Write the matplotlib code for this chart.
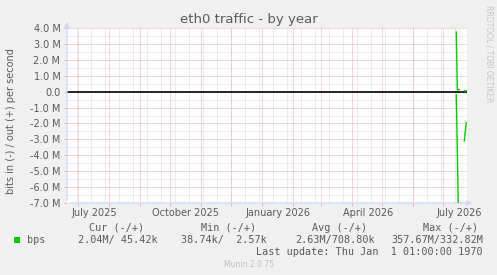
import matplotlib
matplotlib.use('Agg')
import matplotlib.pyplot as plt
import matplotlib.patches as patches
import numpy as np
import pandas as pd

# --- data (bits per second) ---
sample_days = pd.to_datetime(["2026-07-14", "2026-07-15", "2026-07-16", "2026-07-17",
                              "2026-07-18", "2026-07-21", "2026-07-22", "2026-07-23",
                              "2026-07-24"])
out_bps = [3.75e6, 0.12e6, 0.12e6, 0.12e6, np.nan, np.nan, 0.05e6, 0.05e6, 0.05e6]
in_bps = [0.2e6, 3.6e6, 7.3e6, 7.3e6, np.nan, np.nan, 3.1e6, 2.5e6, 1.95e6]

y_ticks = [-7e6, -6e6, -5e6, -4e6, -3e6, -2e6, -1e6, 0, 1e6, 2e6, 3e6, 4e6]
x_labels = ["July 2025", "October 2025", "January 2026", "April 2026", "July 2026"]
x_label_days = pd.to_datetime(["2025-07-16 12:00", "2025-10-16 12:00", "2026-01-16 12:00",
                               "2026-04-16 12:00", "2026-07-16 12:00"])

legend_headers = ["Cur (-/+)", "Min (-/+)", "Avg (-/+)", "Max (-/+)"]
legend_values = ["2.04M/ 45.42k", "38.74k/  2.57k", "2.63M/708.80k", "357.67M/332.82M"]

start = pd.Timestamp("2025-06-19 17:00")
end = start + pd.Timedelta(days=400)

# --- figure layout (pixels) ---
W, H = 497, 275
BG = '#F0F0F0'
FONT = '#5a5a5a'
MONO = 'DejaVu Sans Mono'
GRID = '#DADADA'
MGRID = '#EFB2B2'

def fx(x):
    return x / W

def fy(y):
    return 1 - y / H

fig = plt.figure(figsize=(W / 100, H / 100), dpi=100, facecolor=BG)
ax = fig.add_axes([fx(67), fy(203), 400 / W, 175 / H])
ax.set_facecolor('white')
ax.set_xlim(start, end)
ax.set_ylim(-7e6, 4e6)

# grid: gray minor, red major, 1px dotted
dot = (0, (1, 1))
grid_kw = dict(lw=0.72, ls=dot)
for d in pd.date_range("2025-06-30", end, freq="14D"):
    ax.axvline(d, color=GRID, zorder=1, **grid_kw)
for v in np.arange(-6.5e6, 4e6, 1e6):
    ax.axhline(v, color=GRID, zorder=1, **grid_kw)
month_starts = pd.date_range("2025-07-01", end, freq="MS")
for d in month_starts:
    ax.axvline(d, color=MGRID, zorder=2, **grid_kw)
for v in y_ticks:
    ax.axhline(v, color=MGRID, zorder=2, **grid_kw)

ax.axhline(0, color='black', lw=1.2, zorder=3)

# data lines
ax.plot(sample_days, out_bps, color='#00CC00', lw=1.0, zorder=4)
ax.plot(sample_days, -np.array(in_bps), color='#00CC00', lw=1.0, zorder=4)

# axes and ticks
for s in ax.spines.values():
    s.set_visible(False)
ax.set_yticks(y_ticks)
ax.set_yticklabels(["0.0" if v == 0 else f"{v / 1e6:.1f} M" for v in y_ticks])
ax.set_xticks(month_starts)
ax.set_xticklabels([])
ax.set_xticks(x_label_days, minor=True)
ax.set_xticklabels(x_labels, minor=True)
ax.tick_params(axis='y', length=2.2, width=0.72, color=MGRID, pad=2.5,
               labelsize=7, labelcolor=FONT)
ax.tick_params(axis='x', which='major', length=2.2, width=0.72, color=MGRID)
ax.tick_params(axis='x', which='minor', length=0, pad=3.5, labelsize=7, labelcolor=FONT)

axis_col = '#CFD6F8'
ax.annotate("", xy=(0, 1.05), xytext=(0, 0), xycoords='axes fraction',
            arrowprops=dict(arrowstyle='-|>', color=axis_col, lw=0.9, mutation_scale=8),
            annotation_clip=False)
ax.annotate("", xy=(1.02, 0), xytext=(0, 0), xycoords='axes fraction',
            arrowprops=dict(arrowstyle='-|>', color=axis_col, lw=0.9, mutation_scale=8),
            annotation_clip=False)

# titles
fig.text(fx(249), fy(20), "eth0 traffic - by year", ha='center', va='center',
         fontsize=9.5, color=FONT)
fig.text(fx(11), fy(121), "bits in (-) / out (+) per second", ha='center', va='center',
         rotation=90, fontsize=7, color=FONT)
fig.text(fx(489), fy(5), "RRDTOOL / TOBI OETIKER", ha='center', va='top',
         rotation=270, fontsize=5.5, color='#C4C4C4')

# legend
header_x = [89, 201, 312, 423]
value_x = [78, 181, 295, 391]
for x, t in zip(header_x, legend_headers):
    fig.text(fx(x), fy(228), t, ha='left', va='center', fontsize=7.3,
             family=MONO, color=FONT)
for x, t in zip(value_x, legend_values):
    fig.text(fx(x), fy(240), t, ha='left', va='center', fontsize=7.3,
             family=MONO, color=FONT)
fig.patches.append(patches.Rectangle((fx(14), fy(242.5)), 6 / W, 6 / H,
                                     transform=fig.transFigure, facecolor='#00CC00',
                                     edgecolor='none'))
fig.text(fx(27), fy(240), "bps", ha='left', va='center', fontsize=7.3,
         family=MONO, color=FONT)
fig.text(fx(483), fy(252), "Last update: Thu Jan  1 01:00:00 1970", ha='right',
         va='center', fontsize=7.3, family=MONO, color=FONT)
fig.text(fx(249), fy(264.5), "Munin 2.0.75", ha='center', va='center',
         fontsize=5.5, color='#BEBEBE')

fig.savefig('out.png', dpi=100, facecolor=BG)
